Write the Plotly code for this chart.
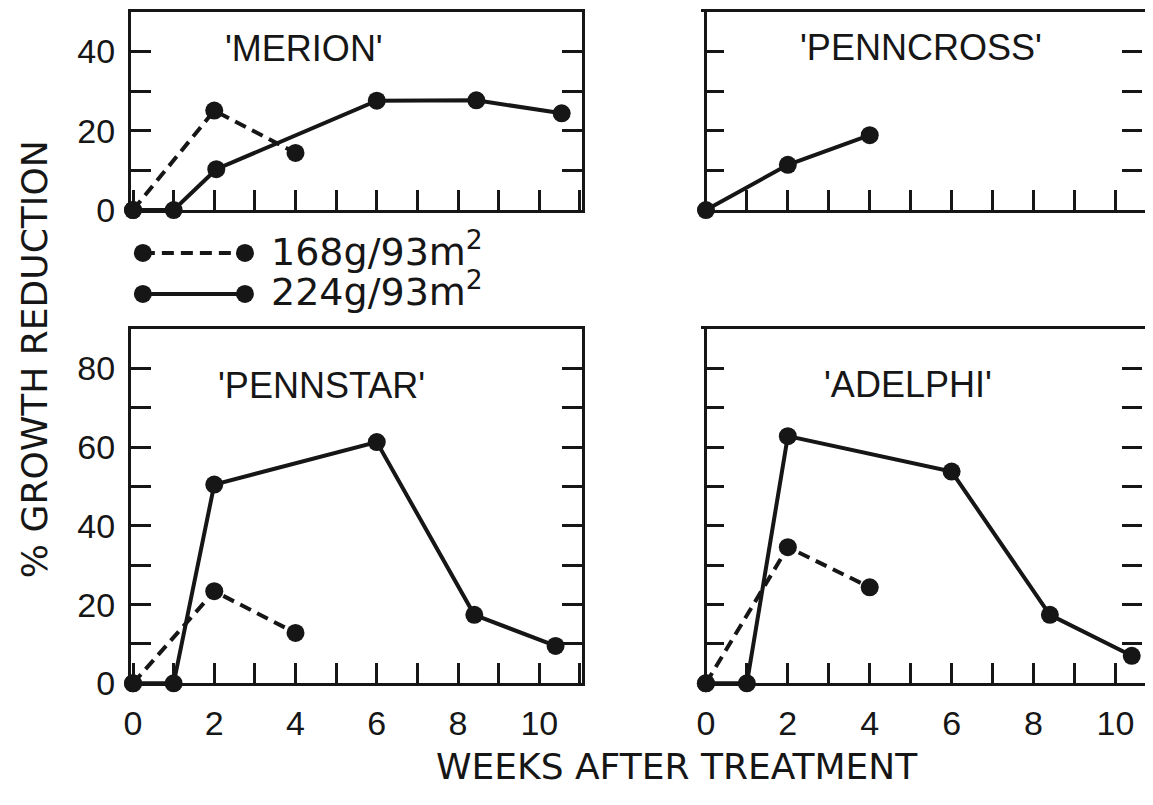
import plotly.graph_objects as go

# ---------------- data ----------------
weeks_224 = [0, 1, 2, 6, 8.4, 10.4]
merion_weeks_224 = [0, 1, 2.05, 6, 8.45, 10.55]
weeks_168 = [0, 2, 4]

merion_224 = [0, 0, 10.3, 27.6, 27.7, 24.4]
merion_168 = [0, 25.1, 14.4]
penncross_224 = [0, 11.4, 18.9]
pennstar_224 = [0, 0, 50.5, 61.3, 17.4, 9.5]
pennstar_168 = [0, 23.4, 12.8]
adelphi_224 = [0, 0, 62.8, 53.8, 17.4, 7.0]
adelphi_168 = [0, 34.6, 24.4]

panel_names = ["'MERION'", "'PENNCROSS'", "'PENNSTAR'", "'ADELPHI'"]
rate_labels = ["168g/93m<sup>2</sup>", "224g/93m<sup>2</sup>"]
x_axis_title = "WEEKS AFTER TREATMENT"
y_axis_title = "% GROWTH REDUCTION"
key_x = [0, 1]
key_rows = [1, 0]

# ---------------- layout helpers ----------------
PAGE_MARGIN = 8          # default body margin of the html page
W, H = 1153 - 2 * PAGE_MARGIN, 805 - 2 * PAGE_MARGIN
INK = "#161616"
CLEAR = "rgba(0,0,0,0)"


def px_x(v):
    return (v - PAGE_MARGIN) / W


def px_y(v):
    return 1 - (v - PAGE_MARGIN) / H


fig = go.Figure()

solid = dict(color=INK, width=4)
dashed = dict(color=INK, width=4, dash="12px,7px")
mk = dict(size=18, color=INK)


def add(xs, ys, line, ax):
    fig.add_trace(go.Scatter(
        x=xs, y=ys, mode="lines+markers", line=line, marker=mk,
        xaxis="x" + ax, yaxis="y" + ax, cliponaxis=False, showlegend=False,
        hoverinfo="skip"))


# Merion (panel 1)
add(weeks_168, merion_168, dashed, "")
add(merion_weeks_224, merion_224, solid, "")
# Penncross (panel 2)
add(weeks_168, penncross_224, solid, "2")
# Pennstar (panel 3)
add(weeks_168, pennstar_168, dashed, "3")
add(weeks_224, pennstar_224, solid, "3")
# Adelphi (panel 4)
add(weeks_168, adelphi_168, dashed, "4")
add(weeks_224, adelphi_224, solid, "4")

# key
add(key_x, [key_rows[0]] * 2, dashed, "5")
add(key_x, [key_rows[1]] * 2, solid, "5")

tickfont = dict(family="Liberation Sans, Arial, sans-serif", size=34, color=INK)


def minor(d):
    return dict(dtick=d, tick0=0, ticks="inside", ticklen=20, tickwidth=3,
                tickcolor=INK, showgrid=False)


def xax(domain, labels, anchor, rng, zero=False):
    return dict(domain=domain, anchor=anchor, range=rng, showline=True,
                linecolor=INK, linewidth=3, mirror=True, ticks="inside",
                ticklen=20, tickwidth=3, tickcolor=INK, showgrid=False,
                zeroline=zero, zerolinecolor=INK, zerolinewidth=3,
                tick0=0, dtick=2, minor=minor(1),
                showticklabels=labels, tickfont=tickfont, ticklabelstandoff=8,
                fixedrange=True)


def yax(domain, labels, anchor, rng, linecolor=INK):
    return dict(domain=domain, anchor=anchor, range=rng, showline=True,
                linecolor=linecolor, linewidth=3, mirror="ticks",
                ticks="inside", ticklen=20, tickwidth=3, tickcolor=INK,
                showgrid=False, zeroline=False, tick0=0, dtick=20,
                minor=minor(10), showticklabels=labels, tickfont=tickfont,
                ticklabelstandoff=6, fixedrange=True)


xl = [px_x(125), px_x(580)]
xr = [px_x(703), 1.0]
yt = [px_y(215), px_y(12)]
yb = [px_y(700), px_y(337)]
rl = [-0.05, 11.05]
rr = [-0.05, 10.65]

# right column: its right frame edge lies beyond the page, so the y-axis
# lines are hidden (ticks kept) and the left frame edge is the x zero line.
fig.update_layout(
    width=W, height=H, autosize=False,
    margin=dict(l=0, r=0, t=0, b=0),
    paper_bgcolor="white", plot_bgcolor=CLEAR,
    xaxis=xax(xl, False, "y", rl),
    yaxis=yax(yt, True, "x", [0, 50]),
    xaxis2=xax(xr, False, "y2", rr, zero=True),
    yaxis2=yax(yt, False, "x2", [0, 50], linecolor=CLEAR),
    xaxis3=xax(xl, True, "y3", rl),
    yaxis3=yax(yb, True, "x3", [0, 90]),
    xaxis4=xax(xr, True, "y4", rr, zero=True),
    yaxis4=yax(yb, False, "x4", [0, 90], linecolor=CLEAR),
    xaxis5=dict(domain=[px_x(137), px_x(240)], anchor="y5", range=[0, 1],
                visible=False, fixedrange=True),
    yaxis5=dict(domain=[px_y(322), px_y(238)], anchor="x5", range=[-0.5, 1.5],
                visible=False, fixedrange=True),
)

label_font = dict(family="Liberation Sans, Arial, sans-serif", size=36, color=INK)
ytitle_font = dict(family="DejaVu Sans, sans-serif", size=36, color=INK)
xtitle_font = dict(family="DejaVu Sans, sans-serif", size=36, color=INK)
key_font = dict(family="DejaVu Sans, sans-serif", size=38, color=INK)

panel_pos = [(300, 50), (922, 48), (317, 395), (909, 394)]
for name, (px, py) in zip(panel_names, panel_pos):
    fig.add_annotation(text=name, x=px_x(px), y=px_y(py), xref="paper",
                       yref="paper", showarrow=False, font=label_font,
                       xanchor="center", yanchor="middle")

for lab, py in zip(rate_labels, [255, 296]):
    fig.add_annotation(text=lab, x=px_x(264), y=px_y(py), xref="paper",
                       yref="paper", showarrow=False, font=key_font,
                       xanchor="left", yanchor="middle")

fig.add_annotation(text=y_axis_title, x=px_x(28), y=px_y(368),
                   xref="paper", yref="paper", showarrow=False, textangle=-90,
                   font=ytitle_font, xanchor="center", yanchor="middle")
fig.add_annotation(text=x_axis_title, x=px_x(676), y=px_y(785),
                   xref="paper", yref="paper", showarrow=False,
                   font=xtitle_font, xanchor="center", yanchor="middle")

fig.write_html("out.html")
